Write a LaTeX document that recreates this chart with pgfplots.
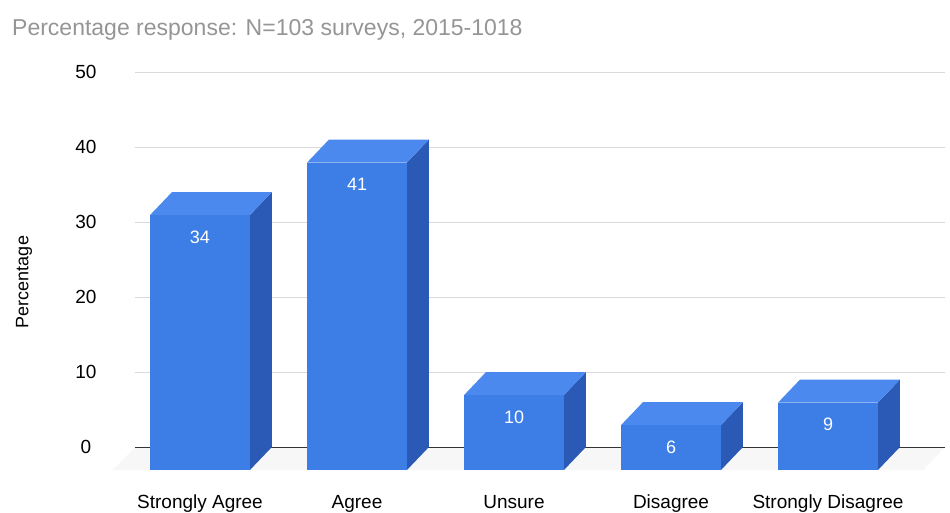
\documentclass[border=0pt]{standalone}
\usepackage{fontspec}
\setmainfont{Liberation Sans}
\usepackage{pgfplots}
\usepackage{pgfplotstable}
\pgfplotsset{compat=1.18}
\definecolor{front}{HTML}{3C7DE6}
\definecolor{topc}{HTML}{4B89EE}
\definecolor{side}{HTML}{2A5AB6}
\definecolor{gridgray}{HTML}{DADADA}
\definecolor{basec}{HTML}{333333}
\definecolor{titlegray}{HTML}{959595}
\definecolor{floorgray}{HTML}{F7F7F7}

\pgfplotstableread{
idx value
0 34
1 41
2 10
3 6
4 9
}\datatable

\newcommand\dx{0.14}
\newcommand\dy{3.07}
\newcommand\hw{0.318}

\begin{document}
\begin{tikzpicture}[x=1pt,y=1pt]
\useasboundingbox (0,0) rectangle (950,-512);
\node[anchor=base west, inner sep=0pt, text=titlegray, font=\fontsize{23}{26}\selectfont] at (12,-35) {Percentage response: N=103 surveys, 2015-1018};
\begin{axis}[
  at={(135pt,-447pt)}, anchor=south west,
  scale only axis, width=810pt, height=375pt,
  xmin=-0.554, xmax=4.605, ymin=0, ymax=50,
  clip=false,
  axis line style={draw=none},
  major tick length=0pt,
  ytick={0,10,20,30,40,50},
  ymajorgrids, grid style={color=gridgray, line width=0.9pt},
  xtick={-0.14,0.86,1.86,2.86,3.86},
  xticklabels={Strongly Agree,Agree,Unsure,Disagree,Strongly Disagree},
  /pgf/number format/assume math mode=true,
  yticklabel style={anchor=center, xshift=-49pt, font=\fontsize{19}{22}\selectfont, text=black},
  xticklabel style={anchor=base, yshift=-61pt, font=\fontsize{19}{22}\selectfont, text=black},
  ylabel={Percentage},
  every axis y label/.style={at={(axis description cs:-0.137,0.44)}, rotate=90, anchor=center, font=\fontsize{18}{21}\selectfont},
]
\addplot[fill=floorgray, draw=none] coordinates {(-0.554,0) (4.605,0) (4.465,-3.07) (-0.694,-3.07)};
\addplot[color=basec, line width=1pt] coordinates {(-0.554,0) (4.605,0)};
\pgfplotsinvokeforeach{0,...,4}{
  \pgfplotstablegetelem{#1}{value}\of\datatable
  \pgfmathsetmacro\barv{\pgfplotsretval}
  \pgfmathsetmacro\xl{#1-\hw}
  \pgfmathsetmacro\xr{#1+\hw}
  \pgfmathsetmacro\fxl{#1-\hw-\dx}
  \pgfmathsetmacro\fxr{#1+\hw-\dx}
  \pgfmathsetmacro\fv{\barv-\dy}
  \edef\temp{%
    \noexpand\addplot[fill=side, draw=none] coordinates {(\fxr,-\dy) (\xr,0) (\xr,\barv) (\fxr,\fv)};
    \noexpand\addplot[fill=topc, draw=none] coordinates {(\fxl,\fv) (\fxr,\fv) (\xr,\barv) (\xl,\barv)};
    \noexpand\addplot[fill=front, draw=none] coordinates {(\fxl,-\dy) (\fxr,-\dy) (\fxr,\fv) (\fxl,\fv)};
  }%
  \temp
}
\addplot[draw=none, mark=none, point meta=explicit, nodes near coords,
  every node near coord/.style={text=white, anchor=center, yshift=-22pt, font=\fontsize{18}{21}\selectfont}]
  table[x expr=\coordindex-0.14, y expr=\thisrow{value}-3.07, meta=value] {\datatable};
\end{axis}
\end{tikzpicture}
\end{document}
